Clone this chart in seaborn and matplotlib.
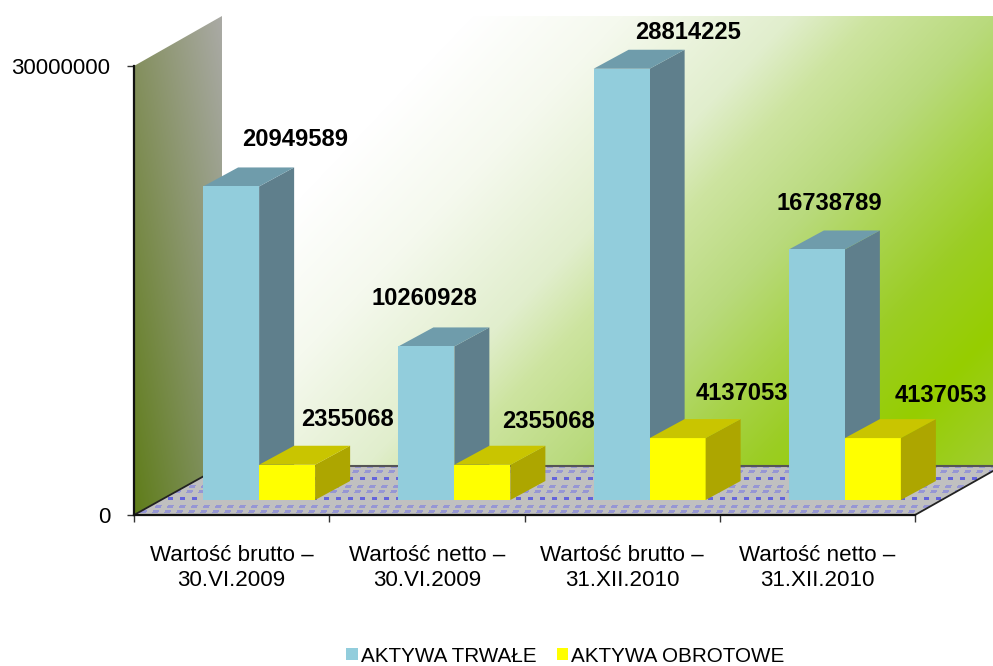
import numpy as np
import pandas as pd
import seaborn as sns
import matplotlib
matplotlib.use('Agg')
import matplotlib.pyplot as plt
from matplotlib.patches import Polygon, Patch

categories = ['Wartość brutto –\n30.VI.2009', 'Wartość netto –\n30.VI.2009',
              'Wartość brutto –\n31.XII.2010', 'Wartość netto –\n31.XII.2010']
series_names = ['AKTYWA TRWAŁE', 'AKTYWA OBROTOWE']
trwale = [20949589, 10260928, 28814225, 16738789]
obrotowe = [2355068, 2355068, 4137053, 4137053]
y_ticks = [0, 30000000]

# label offsets from bar top centre, in pixels
trwale_offsets = [(64, 47), (-2, 48), (66, 36), (12, 46)]
obrotowe_offsets = [(60, 45), (66, 43), (64, 45), (68, 43)]

W, H = 993, 666
colors = ['#92CDDC', '#FFFF00']
top_colors = ['#6F9CAB', '#C9C500']
side_colors = ['#5F7F8C', '#ADA600']

sns.set_theme(style='white')
plt.rcParams['font.family'] = ['Liberation Sans', 'DejaVu Sans']

fig = plt.figure(figsize=(W / 100, H / 100), dpi=100, facecolor='white')

def px_axes(x0, y0, x1, y1):
    # axes from pixel box (y counted from the top of the image)
    return fig.add_axes([x0 / W, 1 - y1 / H, (x1 - x0) / W, (y1 - y0) / H])

# backdrop drawn in image pixels
bg = px_axes(0, 0, W, H)

# back wall, diagonal gradient
xx, yy = np.meshgrid(np.arange(222, W), np.arange(16, 467))
t = (xx - 222) + 0.95 * (yy - 16)
stops = [0, 250, 400, 570, 650, 770, 870, 960, 1070, 1200]
wall_rgb = np.array([(255, 255, 255), (255, 255, 255), (245, 249, 238), (225, 238, 205),
                     (205, 228, 160), (185, 218, 125), (168, 211, 75), (155, 205, 35),
                     (150, 205, 0), (160, 205, 50)]) / 255
wall = np.dstack([np.interp(t, stops, wall_rgb[:, i]) for i in range(3)])
bg.imshow(wall, extent=(222, W, 467, 16), aspect='auto', interpolation='bilinear')

# side wall
u, v = np.meshgrid(np.linspace(0, 1, 90), np.linspace(0, 1, 250))
side_top = np.array([135, 145, 100]) * (1 - u[..., None]) + np.array([170, 170, 165]) * u[..., None]
side_bot = np.array([95, 125, 25]) * (1 - u[..., None]) + np.array([130, 145, 100]) * u[..., None]
side_img = (side_top * (1 - v[..., None]) + side_bot * v[..., None]) / 255
side = bg.imshow(side_img, extent=(134, 222, 515, 16), aspect='auto', interpolation='bilinear')
side.set_clip_path(Polygon([(134, 66), (222, 16), (222, 466), (134, 515)], transform=bg.transData))

# floor, gray with rows of blue dashes
fx, fy = np.meshgrid(np.arange(134, W), np.arange(466, 516))
tex = np.ones(fx.shape + (3,)) * 192 / 255
ry = (fy - 477) % 20
soft = ((fx + fy // 2) % 12 < 6) & (fy % 5 < 3) & (ry >= 6) & (ry <= 16)
tex[soft] = np.array([150, 150, 212]) / 255
strong = (fx % 12 < 5) & (ry < 3)
tex[strong] = np.array([100, 100, 218]) / 255
floor_img = bg.imshow(tex, extent=(134, W, 516, 466), aspect='auto', interpolation='nearest')
floor_img.set_clip_path(Polygon([(134, 515), (222, 466), (W, 466), (W, 471), (915, 515)],
                                transform=bg.transData))
bg.plot([222, W], [466, 466], color='#555555', lw=1.5)
bg.plot([134, 222], [515, 466], color='#222222', lw=1.3)
bg.plot([915, W], [515, 471], color='#222222', lw=1.3)
bg.set_xlim(0, W)
bg.set_ylim(H, 0)
bg.axis('off')

# front plane, holds the axis
ax = px_axes(134, 66, 915, 515)
ax.patch.set_alpha(0)
ax.set_xlim(0, 4)
ax.set_ylim(0, 30000000)
ax.set_yticks(y_ticks)
ax.set_yticklabels([str(v) for v in y_ticks], fontsize=16, color='black')
ax.set_xticks(np.arange(len(categories)) + 0.5)
ax.set_xticklabels(categories, fontsize=16.1, color='black', linespacing=1.27)
ax.set_xticks(np.arange(len(categories) + 1), minor=True)
ax.tick_params(axis='x', which='major', length=0, pad=21.5)
ax.tick_params(axis='x', which='minor', length=5, width=1, color='#333333', bottom=True)
ax.tick_params(axis='y', length=5, width=1, color='#333333', left=True, pad=12)
for s in ['top', 'right']:
    ax.spines[s].set_visible(False)
for s in ['left', 'bottom']:
    ax.spines[s].set_color('#111111')
    ax.spines[s].set_linewidth(1.6)

# bars sit further back on the floor: same scale, shifted along the depth direction
ax_bars = px_axes(134 + 27.5, 66 - 15, 915 + 27.5, 515 - 15)
ax_bars.patch.set_alpha(0)

df = pd.DataFrame({
    'kategoria': categories * 2,
    'seria': [series_names[0]] * 4 + [series_names[1]] * 4,
    'wartosc': trwale + obrotowe,
})
sns.barplot(data=df, x='kategoria', y='wartosc', hue='seria', hue_order=series_names,
            palette=colors, width=112 / 195.25, gap=0, saturation=1, legend=False,
            ax=ax_bars, zorder=3, linewidth=0)
ax_bars.set_xlim(-0.5, 3.5)
ax_bars.set_ylim(0, 30000000)
ax_bars.axis('off')

# depth of the bars
dx = 35 / 195.25
dy = 19 / 449 * 30000000

for i, cont in enumerate(ax_bars.containers):
    offsets = trwale_offsets if i == 0 else obrotowe_offsets
    z = 2 if i == 0 else 4
    for rect, off in zip(cont.patches, offsets):
        x0 = rect.get_x()
        x1 = x0 + rect.get_width()
        h = rect.get_height()
        ax_bars.add_patch(Polygon([(x1, 0), (x1 + dx, dy), (x1 + dx, h + dy), (x1, h)],
                                  facecolor=side_colors[i], lw=0, zorder=z, clip_on=False))
        ax_bars.add_patch(Polygon([(x0, h), (x0 + dx, h + dy), (x1 + dx, h + dy), (x1, h)],
                                  facecolor=top_colors[i], lw=0, zorder=z, clip_on=False))
        ax_bars.annotate(str(int(h)), xy=((x0 + x1) / 2, h), xytext=off, textcoords='offset pixels',
                         ha='center', va='center', fontsize=17.1, fontweight='bold',
                         color='black', zorder=6, annotation_clip=False)

handles = [Patch(facecolor=c, edgecolor='none', label=n) for c, n in zip(colors, series_names)]
fig.legend(handles=handles, ncol=2, loc='center', bbox_to_anchor=(565.5 / W, 1 - 656 / H),
           frameon=False, fontsize=14.9, handlelength=0.55, handleheight=0.55,
           handletextpad=0.15, columnspacing=1.0, labelcolor='black')

fig.savefig('out.png', dpi=100)
